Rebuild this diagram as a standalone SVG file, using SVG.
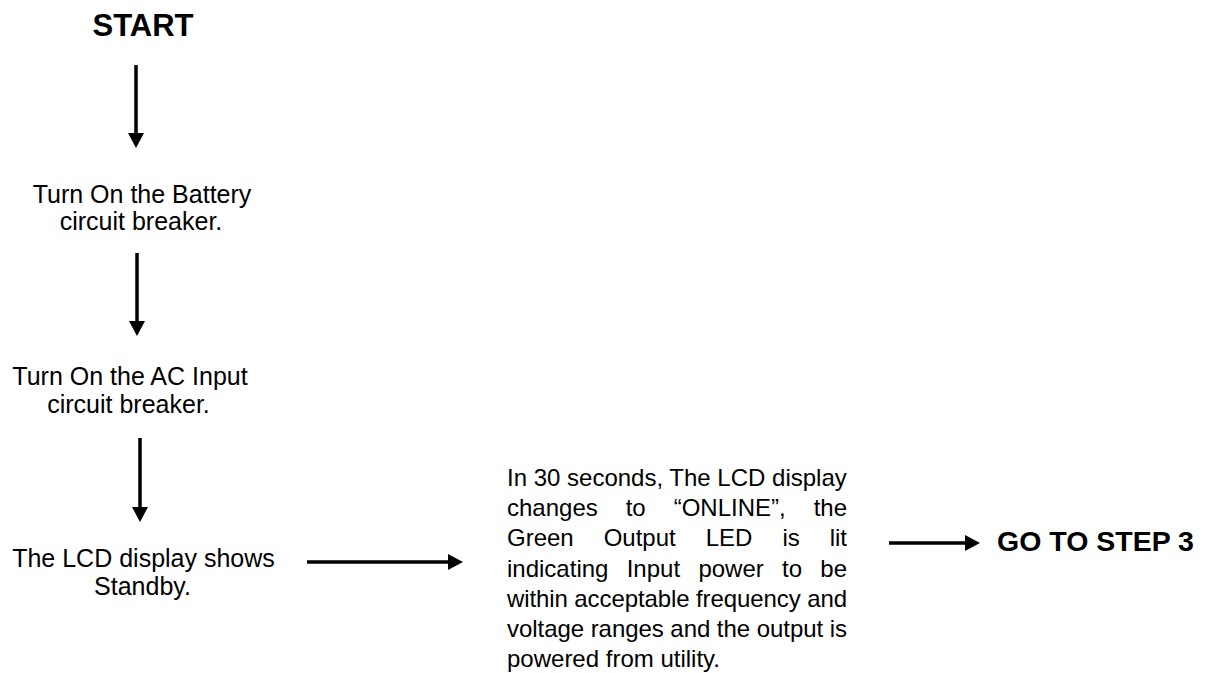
<svg xmlns="http://www.w3.org/2000/svg" width="1210" height="673" viewBox="0 0 1210 673">
<style>
  text { font-family: "Liberation Sans", Arial, sans-serif; fill: #000; }
  .title { font-size: 31px; font-weight: bold; }
  .go { font-size: 28.5px; font-weight: bold; }
  .body { font-size: 25px; }
  .para { font-size: 24px; }
  .conn { stroke: #000; stroke-width: 3.5; fill: none; marker-end: url(#head); }
</style>
<defs>
  <marker id="head" markerUnits="userSpaceOnUse" markerWidth="16" markerHeight="16" refX="0" refY="8" orient="auto" viewBox="0 0 15 16">
    <path d="M0,0 L15,8 L0,16 z" fill="#000"/>
  </marker>
</defs>
<rect width="1210" height="673" fill="#fff"/>
<g id="start">
  <text class="title" x="143" y="36" text-anchor="middle">START</text>
</g>
<g id="battery">
  <text class="body" x="142" y="203" text-anchor="middle">Turn On the Battery</text>
  <text class="body" x="141" y="230" text-anchor="middle">circuit breaker.</text>
</g>
<g id="acinput">
  <text class="body" x="130" y="385" text-anchor="middle">Turn On the AC Input</text>
  <text class="body" x="128.5" y="413" text-anchor="middle">circuit breaker.</text>
</g>
<g id="standby">
  <text class="body" x="143.5" y="567" text-anchor="middle">The LCD display shows</text>
  <text class="body" x="142.5" y="595" text-anchor="middle">Standby.</text>
</g>
<g id="online">
  <text class="para" x="507" y="486">In 30 seconds, The LCD display</text>
  <text class="para" y="516"><tspan x="507">changes</tspan><tspan x="625.7">to</tspan><tspan x="673.7">“ONLINE”,</tspan><tspan x="847" text-anchor="end">the</tspan></text>
  <text class="para" y="546"><tspan x="507">Green</tspan><tspan x="603.7">Output</tspan><tspan x="705.7">LED</tspan><tspan x="782.4">is</tspan><tspan x="847" text-anchor="end">lit</tspan></text>
  <text class="para" y="576.5"><tspan x="507">indicating</tspan><tspan x="626.7">Input</tspan><tspan x="698.4">power</tspan><tspan x="782.1">to</tspan><tspan x="847" text-anchor="end">be</tspan></text>
  <text class="para" x="507" y="606.5" textLength="340" lengthAdjust="spacing">within acceptable frequency and</text>
  <text class="para" x="507" y="636.5" textLength="340" lengthAdjust="spacing">voltage ranges and the output is</text>
  <text class="para" x="507" y="666.5">powered from utility.</text>
</g>
<g id="step3">
  <text class="go" x="997" y="551">GO TO STEP 3</text>
</g>
<g id="connectors">
  <line class="conn" x1="136" y1="65" x2="136" y2="133"/>
  <line class="conn" x1="137" y1="253" x2="137" y2="321"/>
  <line class="conn" x1="140" y1="438" x2="140" y2="507"/>
  <line class="conn" x1="307" y1="562" x2="448" y2="562"/>
  <line class="conn" x1="889" y1="543" x2="965" y2="543"/>
</g>
</svg>
